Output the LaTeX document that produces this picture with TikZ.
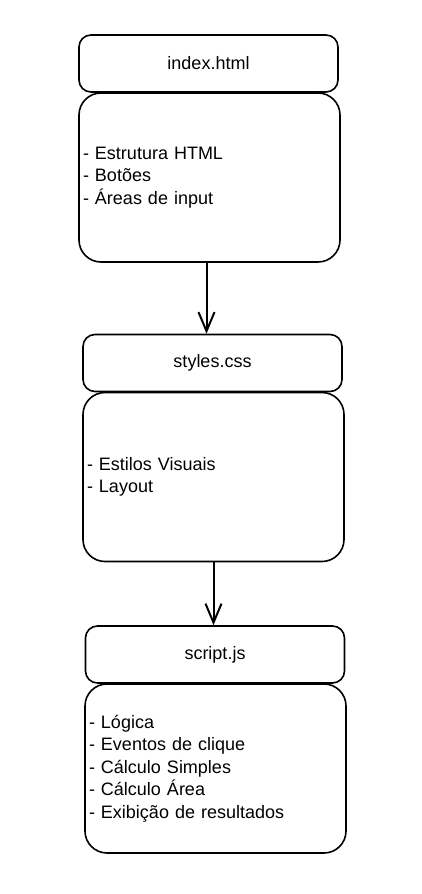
\documentclass[tikz,border=0pt]{standalone}
\usepackage{fontspec}
\setmainfont{Liberation Sans}
\usetikzlibrary{arrows.meta}

\begin{document}
\begin{tikzpicture}[x=1pt, y=-1pt,
        every node/.style={font=\fontsize{18}{22.5}\selectfont},
        filehead/.style={draw, line width=1.6pt, rounded corners=12pt, inner sep=0pt,
            minimum width=259pt, minimum height=57pt},
        filebody/.style={draw, line width=1.6pt, rounded corners=22pt, inner xsep=4pt, inner ysep=0pt,
            minimum width=261pt, minimum height=169pt, text width=253pt, align=left},
        flow/.style={line width=2pt, -{Straight Barb[length=19pt, width=16pt, line width=2pt]}}]
        \useasboundingbox (0, 0) rectangle (421, 894);

        \node [filehead] (H) at (208.5, 63.5) {index.html};
        \node [filebody] (HB) at (209.5, 177.5) {- Estrutura HTML\\- Botões\\- Áreas de input};

        \node [filehead] (S) at (212.5, 363) {styles.css};
        \node [filebody] (SB) at (213.5, 477) {- Estilos Visuais\\- Layout};

        \node [filehead] (J) at (215, 654.5) {script.js};
        \node [filebody] (JB) at (215.5, 768.5) {- Lógica\\- Eventos de clique\\- Cálculo Simples\\- Cálculo Área\\- Exibição de resultados};

        \draw [flow] ([xshift=-3pt]HB.south) -- ([xshift=-3pt]HB.south |- S.north);
        \draw [flow] (SB.south) -- (SB.south |- J.north);

    \end{tikzpicture}
\end{document}
